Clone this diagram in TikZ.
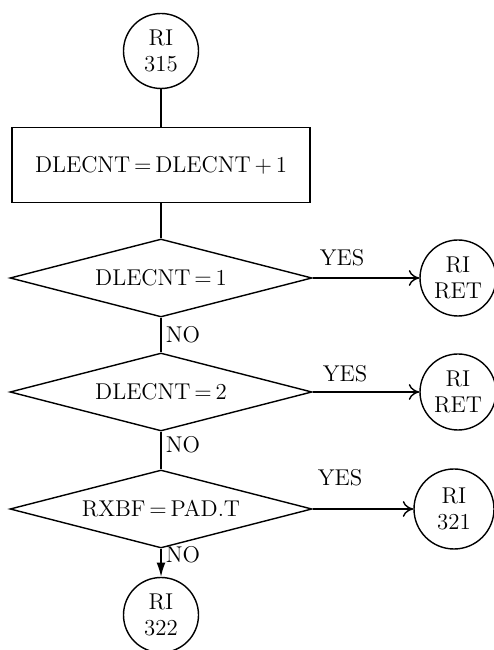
\documentclass[tikz,border=0pt]{standalone}
\usepackage{tikz}
\usetikzlibrary{positioning,arrows.meta,shapes.geometric}
\newcommand{\flowfont}{\fontsize{13}{15}\selectfont}
\tikzset{
    connector/.style={circle, draw, thick, minimum size=1.5cm, inner sep=0pt, align=center, font=\flowfont},
    process box/.style={rectangle, draw, thick, minimum width=5.96cm, minimum height=1.5cm, font=\flowfont},
    decision/.style={diamond, draw, thick, aspect=3.9, minimum width=6.04cm, minimum height=1.56cm, inner sep=1pt, font=\flowfont},
    branch label/.style={font=\flowfont, inner sep=1pt},
    flow line/.style={thick},
    yes arrow/.style={-{To[length=6pt,width=9pt]}, thick},
    no arrow/.style={-{Latex[length=8pt,width=5pt]}, thick}
}

\begin{document}
\begin{tikzpicture}
    \useasboundingbox (0,0) rectangle (9.86,13);

    % Entry point and counter update
    \node[connector] (ri315) at (3.22,11.98) {RI\\315};
    \node[process box] (inc) at (3.22,9.70) {DLECNT\,=\,DLECNT\,+\,1};

    % Decision chain
    \node[decision] (chk1) at (3.22,7.44) {DLECNT\,=\,1};
    \node[decision] (chk2) at (3.22,5.16) {DLECNT\,=\,2};
    \node[decision] (chkpad) at (3.22,2.82) {RXBF\,=\,PAD.T};

    % Exit connectors
    \node[connector, minimum size=1.52cm] (ret1) at (9.16,7.44) {RI\\RET};
    \node[connector, minimum size=1.52cm] (ret2) at (9.16,5.16) {RI\\RET};
    \node[connector, minimum size=1.6cm] (ri321) at (9.08,2.82) {RI\\321};
    \node[connector] (ri322) at (3.22,0.70) {RI\\322};

    % Main flow
    \draw[flow line] (ri315) -- (inc);
    \draw[flow line] (inc) -- (chk1);
    \draw[flow line] (chk1) -- (chk2);
    \draw[flow line] (chk2) -- (chkpad);
    \draw[no arrow] (chkpad) -- (ri322);

    % YES branches
    \draw[yes arrow] (chk1.east) -- (ret1);
    \draw[yes arrow] (chk2.east) -- (ret2);
    \draw[yes arrow] (chkpad.east) -- (ri321);

    % Branch labels
    \node[branch label] (yes1) at (6.84,7.84) {YES};
    \node[branch label] (yes2) at (6.90,5.52) {YES};
    \node[branch label] (yes3) at (6.80,3.44) {YES};
    \node[branch label] (no1) at (3.66,6.30) {NO};
    \node[branch label] (no2) at (3.66,4.10) {NO};
    \node[branch label] (no3) at (3.66,1.90) {NO};
\end{tikzpicture}
\end{document}
